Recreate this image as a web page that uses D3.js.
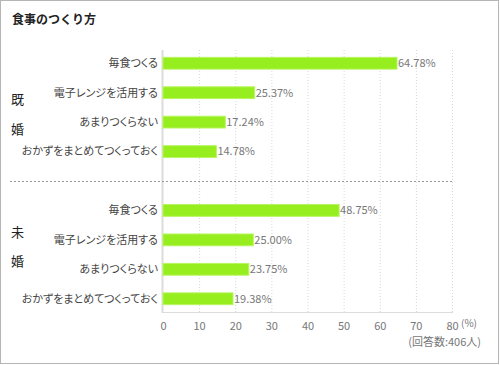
<!DOCTYPE html>
<html>
<head>
<meta charset="utf-8">
<script src="https://cdn.jsdelivr.net/npm/d3@7"></script>
<style>
  body { margin: 0; background: #fff; }
  svg { display: block; font-family: "Noto Sans CJK JP", "Noto Sans", sans-serif; }
  .cat { font-feature-settings: "palt"; }
</style>
</head>
<body>
<svg></svg>
<script>
const width = 500;
const height = 365;
const margin = ({ top: 50, right: 48, bottom: 53, left: 163 });

const categories = ["毎食つくる", "電子レンジを活用する", "あまりつくらない", "おかずをまとめてつくっておく"];
const groups = ["既婚", "未婚"];
const marriedValues = [64.78, 25.37, 17.24, 14.78];
const singleValues = [48.75, 25.00, 23.75, 19.38];
const xTicks = [0, 10, 20, 30, 40, 50, 60, 70, 80];

const rows = [];
[marriedValues, singleValues].forEach((vals, gi) => {
    vals.forEach((v, i) => rows.push({ group: groups[gi], cat: categories[i], value: v, key: gi + "-" + i }));
});

const x = d3.scaleLinear()
    .domain([0, 80])
    .range([margin.left, width - margin.right]);

// two blocks of four rows, separated by a gap
const y = d3.scaleBand()
    .domain(["0-0", "0-1", "0-2", "0-3", "gap", "1-0", "1-1", "1-2", "1-3"])
    .range([50, 312])
    .paddingInner(0.6)
    .paddingOuter(0.25);

const svg = d3.select("svg")
    .attr("width", width)
    .attr("height", height)
    .attr("viewBox", [0, 0, width, height]);

// outer frame
svg.append("rect")
    .attr("x", 0.5).attr("y", 0.5)
    .attr("width", width - 2).attr("height", height - 2)
    .attr("fill", "none")
    .attr("stroke", "#b5b5b5");

svg.append("text")
    .attr("x", 12)
    .attr("y", 24)
    .attr("font-size", 12)
    .attr("font-weight", "bold")
    .attr("fill", "#222")
    .text("食事のつくり方");

// dotted grid
svg.append("g")
    .selectAll("line")
    .data(xTicks.slice(1))
    .join("line")
    .attr("x1", d => x(d) + 0.5)
    .attr("x2", d => x(d) + 0.5)
    .attr("y1", 50)
    .attr("y2", 312)
    .attr("stroke", "#d6d6d6")
    .attr("stroke-dasharray", "1,2");

// axis lines
svg.append("line")
    .attr("x1", x(0) - 0.5).attr("x2", x(0) - 0.5)
    .attr("y1", 50).attr("y2", 313)
    .attr("stroke", "#dcdcdc").attr("stroke-width", 2);
svg.append("line")
    .attr("x1", x(0) - 1).attr("x2", x(80) + 1)
    .attr("y1", 312.5).attr("y2", 312.5)
    .attr("stroke", "#dcdcdc");

// separator
const sepY = y("gap") + y.bandwidth() / 2;
svg.append("line")
    .attr("x1", 10).attr("x2", x(80))
    .attr("y1", Math.round(sepY) + 0.5).attr("y2", Math.round(sepY) + 0.5)
    .attr("stroke", "#999")
    .attr("stroke-dasharray", "2,2");

// bars
svg.append("g")
    .selectAll("rect")
    .data(rows)
    .join("rect")
    .attr("x", x(0))
    .attr("y", d => y(d.key))
    .attr("width", d => x(d.value) - x(0))
    .attr("height", y.bandwidth())
    .attr("fill", "#96ee1e")
    .attr("stroke", "#b8f560")
    .attr("stroke-width", 1);

// category labels
svg.append("g")
    .attr("class", "cat")
    .attr("font-size", 11)
    .attr("fill", "#444")
    .attr("text-anchor", "end")
    .selectAll("text")
    .data(rows)
    .join("text")
    .attr("x", x(0) - 5)
    .attr("y", d => y(d.key) + y.bandwidth() / 2)
    .attr("dy", "0.35em")
    .text(d => d.cat);

// value labels
svg.append("g")
    .attr("font-size", 11)
    .attr("fill", "#777")
    .selectAll("text")
    .data(rows)
    .join("text")
    .attr("x", d => x(d.value) + 1)
    .attr("y", d => y(d.key) + y.bandwidth() / 2)
    .attr("dy", "0.35em")
    .text(d => d.value.toFixed(2) + "%");

// group labels (vertical, one char per line); offsets from the block middle
const groupCharOffsets = [[-8, 22], [-22, 7]];
groups.forEach((g, gi) => {
    const mid = (y(gi + "-0") + y(gi + "-3") + y.bandwidth()) / 2;
    g.split("").forEach((ch, ci) => {
        svg.append("text")
            .attr("x", 11)
            .attr("y", mid + groupCharOffsets[gi][ci])
            .attr("dy", "0.36em")
            .attr("font-size", 13)
            .attr("fill", "#222")
            .text(ch);
    });
});

// x axis
const xAxis = g => g
    .attr("transform", `translate(0,${312})`)
    .call(d3.axisBottom(x).tickValues(xTicks).tickSize(0).tickPadding(10))
    .call(g => g.select(".domain").remove())
    .call(g => g.selectAll("text")
        .attr("fill", "#777")
        .attr("font-size", 11)
        .attr("font-family", "\"Noto Sans CJK JP\", sans-serif"));
svg.append("g").call(xAxis);

svg.append("text")
    .attr("x", 461)
    .attr("y", 327)
    .attr("font-size", 10)
    .attr("fill", "#777")
    .text("(%)");

svg.append("text")
    .attr("x", 481)
    .attr("y", 346)
    .attr("text-anchor", "end")
    .attr("font-size", 11)
    .attr("fill", "#777")
    .text("(回答数:406人)");
</script>
</body>
</html>
